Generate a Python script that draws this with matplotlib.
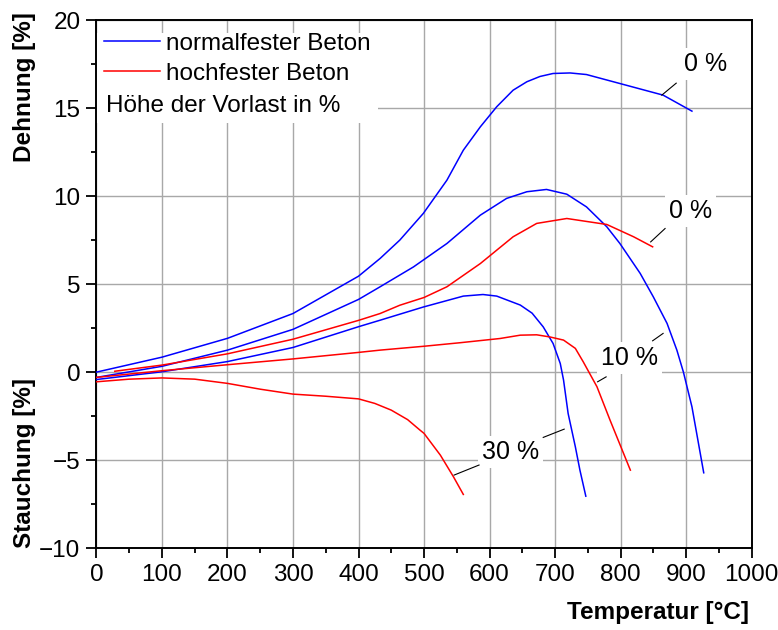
import matplotlib
matplotlib.use("Agg")
import matplotlib.pyplot as plt
from matplotlib.ticker import MultipleLocator
from matplotlib.patches import Rectangle

plt.rcParams['font.family'] = ['Liberation Sans', 'DejaVu Sans']

# normalfester Beton (blue)
nb0_T = [0, 100, 200, 300, 400, 433, 463, 499, 535, 560, 586, 611, 636, 657, 677, 697, 723, 748, 799, 865, 909]
nb0_v = [0.0, 0.85, 1.92, 3.33, 5.45, 6.46, 7.5, 9.02, 10.91, 12.61, 13.94, 15.08, 16.02, 16.5, 16.8, 16.97, 17.0, 16.91, 16.4, 15.74, 14.83]

nb10_T = [0, 100, 200, 300, 400, 433, 484, 535, 586, 626, 657, 687, 718, 748, 779, 799, 830, 850, 871, 886, 896, 909, 927]
nb10_v = [-0.3, 0.33, 1.25, 2.43, 4.13, 4.85, 5.98, 7.31, 8.92, 9.87, 10.25, 10.38, 10.11, 9.39, 8.26, 7.31, 5.61, 4.28, 2.77, 1.25, 0.0, -1.97, -5.72]

nb30_T = [0, 100, 200, 300, 400, 433, 499, 560, 590, 611, 647, 665, 682, 697, 708, 713, 720, 731, 738, 747]
nb30_v = [-0.42, 0.02, 0.6, 1.4, 2.58, 2.95, 3.7, 4.32, 4.41, 4.32, 3.81, 3.35, 2.57, 1.63, 0.49, -0.45, -2.35, -4.24, -5.57, -7.05]

# hochfester Beton (red)
hb0_T = [28, 100, 200, 300, 400, 433, 463, 500, 535, 586, 636, 672, 718, 779, 820, 849]
hb0_v = [0.05, 0.4, 1.04, 1.87, 2.94, 3.33, 3.8, 4.24, 4.85, 6.17, 7.69, 8.45, 8.73, 8.39, 7.69, 7.12]

hb10_T = [0, 100, 200, 300, 400, 433, 500, 555, 616, 647, 672, 692, 713, 731, 743, 764, 784, 815]
hb10_v = [-0.3, 0.08, 0.42, 0.75, 1.12, 1.25, 1.47, 1.67, 1.91, 2.1, 2.12, 2.0, 1.82, 1.35, 0.59, -0.83, -2.73, -5.57]

hb30_T = [0, 50, 100, 150, 200, 250, 300, 350, 400, 425, 450, 475, 494, 500, 525, 545, 560]
hb30_v = [-0.55, -0.4, -0.33, -0.4, -0.64, -0.97, -1.25, -1.37, -1.52, -1.78, -2.16, -2.7, -3.3, -3.48, -4.72, -5.95, -6.95]

fig = plt.figure(figsize=(7.78, 6.3), dpi=100)
ax = fig.add_axes([0.124, 0.130, 0.842, 0.838])

blue = '#0000ff'
red = '#ff0000'
lw = 1.1
ax.plot(nb0_T, nb0_v, color=blue, lw=lw, label='normalfester Beton', zorder=3)
ax.plot(nb10_T, nb10_v, color=blue, lw=lw, zorder=3)
ax.plot(nb30_T, nb30_v, color=blue, lw=lw, zorder=3)
ax.plot(hb0_T, hb0_v, color=red, lw=lw, label='hochfester Beton', zorder=3)
ax.plot(hb10_T, hb10_v, color=red, lw=lw, zorder=3)
ax.plot(hb30_T, hb30_v, color=red, lw=lw, zorder=3)

ax.set_xlim(0, 1000)
ax.set_ylim(-10, 20)
ax.xaxis.set_major_locator(MultipleLocator(100))
ax.xaxis.set_minor_locator(MultipleLocator(50))
ax.yaxis.set_major_locator(MultipleLocator(5))
ax.yaxis.set_minor_locator(MultipleLocator(2.5))
ax.tick_params(which='major', direction='out', length=7.5, width=1.3, labelsize=17.5, pad=4)
ax.tick_params(which='minor', direction='out', length=3.8, width=1.3)
ax.tick_params(top=False, right=False)
for s in ax.spines.values():
    s.set_linewidth(1.4)
ax.grid(True, which='major', color='#a8a8a8', lw=1.0, zorder=1)
ax.set_axisbelow(True)

# white box behind the legend block
ax.add_patch(Rectangle((0, 14.15), 430, 5.1, facecolor='white', edgecolor='none', zorder=2))

fs = 17.5
# legend
leg = ax.legend(loc='upper left', bbox_to_anchor=(0.0, 0.99), fontsize=fs, frameon=False,
                handlelength=2.3, handletextpad=0.25, borderpad=0.1, labelspacing=0.32,
                borderaxespad=0.2)
leg.set_zorder(5)
ax.text(14, 15.1, 'Höhe der Vorlast in %', fontsize=fs, ha='left', va='center', zorder=6)

# annotations
afs = 18
bb = dict(facecolor='white', edgecolor='none', pad=3)
ax.text(930, 17.5, '0 %', fontsize=afs, ha='center', va='center', bbox=bb, zorder=4)
ax.plot([863, 885], [15.74, 16.42], color='black', lw=0.8, zorder=4)
ax.text(907, 9.15, '0 %', fontsize=afs, ha='center', va='center', bbox=bb, zorder=4)
ax.plot([846, 868], [7.4, 8.16], color='black', lw=0.8, zorder=4)
ax.text(814, 0.8, '10 %', fontsize=afs, ha='center', va='center', bbox=bb, zorder=4)
ax.plot([765, 778], [-0.55, -0.27], color='black', lw=0.8, zorder=4)
ax.plot([849, 865], [1.78, 2.2], color='black', lw=0.8, zorder=4)
ax.text(632, -4.53, '30 %', fontsize=afs, ha='center', va='center', bbox=bb, zorder=4)
ax.plot([546, 584], [-5.85, -5.28], color='black', lw=0.8, zorder=4)
ax.plot([682, 714], [-3.71, -3.24], color='black', lw=0.8, zorder=4)

# axis labels
fig.text(25/778, 1-87/630, 'Dehnung [%]', rotation=90, fontsize=fs, fontweight='bold',
         ha='center', va='center')
fig.text(25/778, 1-463/630, 'Stauchung [%]', rotation=90, fontsize=fs, fontweight='bold',
         ha='center', va='center')
fig.text(749/778, 1-612/630, 'Temperatur [°C]', fontsize=fs, fontweight='bold',
         ha='right', va='center')

fig.savefig('out.png', dpi=100)
